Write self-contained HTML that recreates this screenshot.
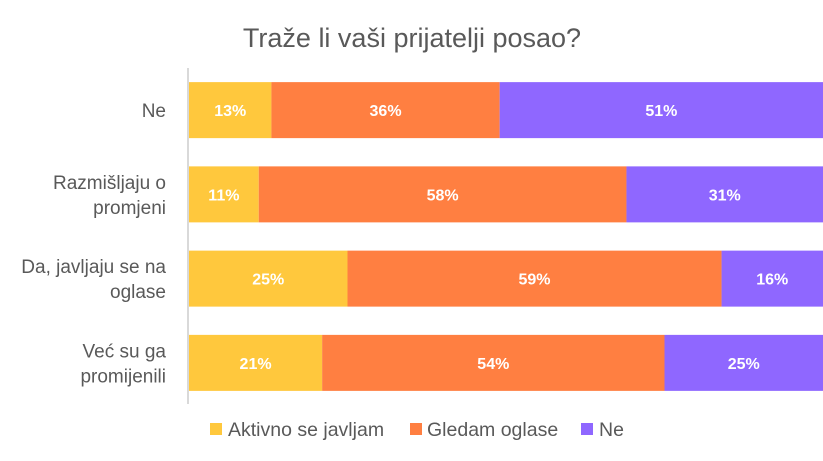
<!DOCTYPE html>
<html><head><meta charset="utf-8"><style>
body{margin:0;background:#fff;}
svg{display:block;font-family:"Liberation Sans",sans-serif;}
</style></head><body>
<svg id="c" width="823" height="461">
<text x="412" y="47" text-anchor="middle" font-size="27" fill="#595959">Traže li vaši prijatelji posao?</text>
<line x1="188" y1="68" x2="188" y2="404" stroke="#d9d9d9" stroke-width="2"/>
<g id="bars"></g>
<g>
<rect x="210" y="423" width="12" height="12" fill="#FFC83D"/>
<text x="228" y="436" font-size="19.5" fill="#595959">Aktivno se javljam</text>
<rect x="410" y="423" width="12" height="12" fill="#FF7F41"/>
<text x="427" y="436" font-size="19.5" fill="#595959">Gledam oglase</text>
<rect x="581" y="423" width="12" height="12" fill="#8F67FF"/>
<text x="599" y="436" font-size="19.5" fill="#595959">Ne</text>
</g>
</svg>
<script>
const categories=[["Ne"],["Razmišljaju o","promjeni"],["Da, javljaju se na","oglase"],["Već su ga","promijenili"]];
const aktivno=[13,11,25,21];
const gledam=[36,58,59,54];
const ne=[51,31,16,25];
const colors=["#FFC83D","#FF7F41","#8F67FF"];
const seriesNames=["aktivno","gledam","ne"];
const ns="http://www.w3.org/2000/svg";
const g=document.getElementById('bars');
const x0=189,x1=823,yTop=68,band=84.25,barH=56;
function xs(v){return x0+(x1-x0)*v/100;}
function yb(i){return yTop+band*i+(band-barH)/2;}
const series=[aktivno,gledam,ne];
categories.forEach((cat,i)=>{
  let acc=0;
  const y=yb(i);
  series.forEach((s,k)=>{
    const v=s[i];
    const r=document.createElementNS(ns,'rect');
    
    
    r.setAttribute('x',xs(acc));r.setAttribute('y',y);
    r.setAttribute('width',xs(acc+v)-xs(acc));r.setAttribute('height',barH);
    r.setAttribute('fill',colors[k]);g.appendChild(r);
    const t=document.createElementNS(ns,'text');
    
    
    t.setAttribute('x',(xs(acc)+xs(acc+v))/2);t.setAttribute('y',y+barH/2+6);
    t.setAttribute('text-anchor','middle');t.setAttribute('font-size','16');
    t.setAttribute('font-weight','bold');t.setAttribute('fill','#fff');
    t.textContent=v+'%';g.appendChild(t);
    acc+=v;
  });
  const cy=y+barH/2;
  const n=cat.length;
  cat.forEach((line,j)=>{
    const t=document.createElementNS(ns,'text');
    
    
    t.setAttribute('x',166);
    t.setAttribute('y',cy+7+(j-(n-1)/2)*25);
    t.setAttribute('text-anchor','end');t.setAttribute('font-size','19');
    t.setAttribute('fill','#595959');t.textContent=line;g.appendChild(t);
  });
});
</script>
</body></html>
